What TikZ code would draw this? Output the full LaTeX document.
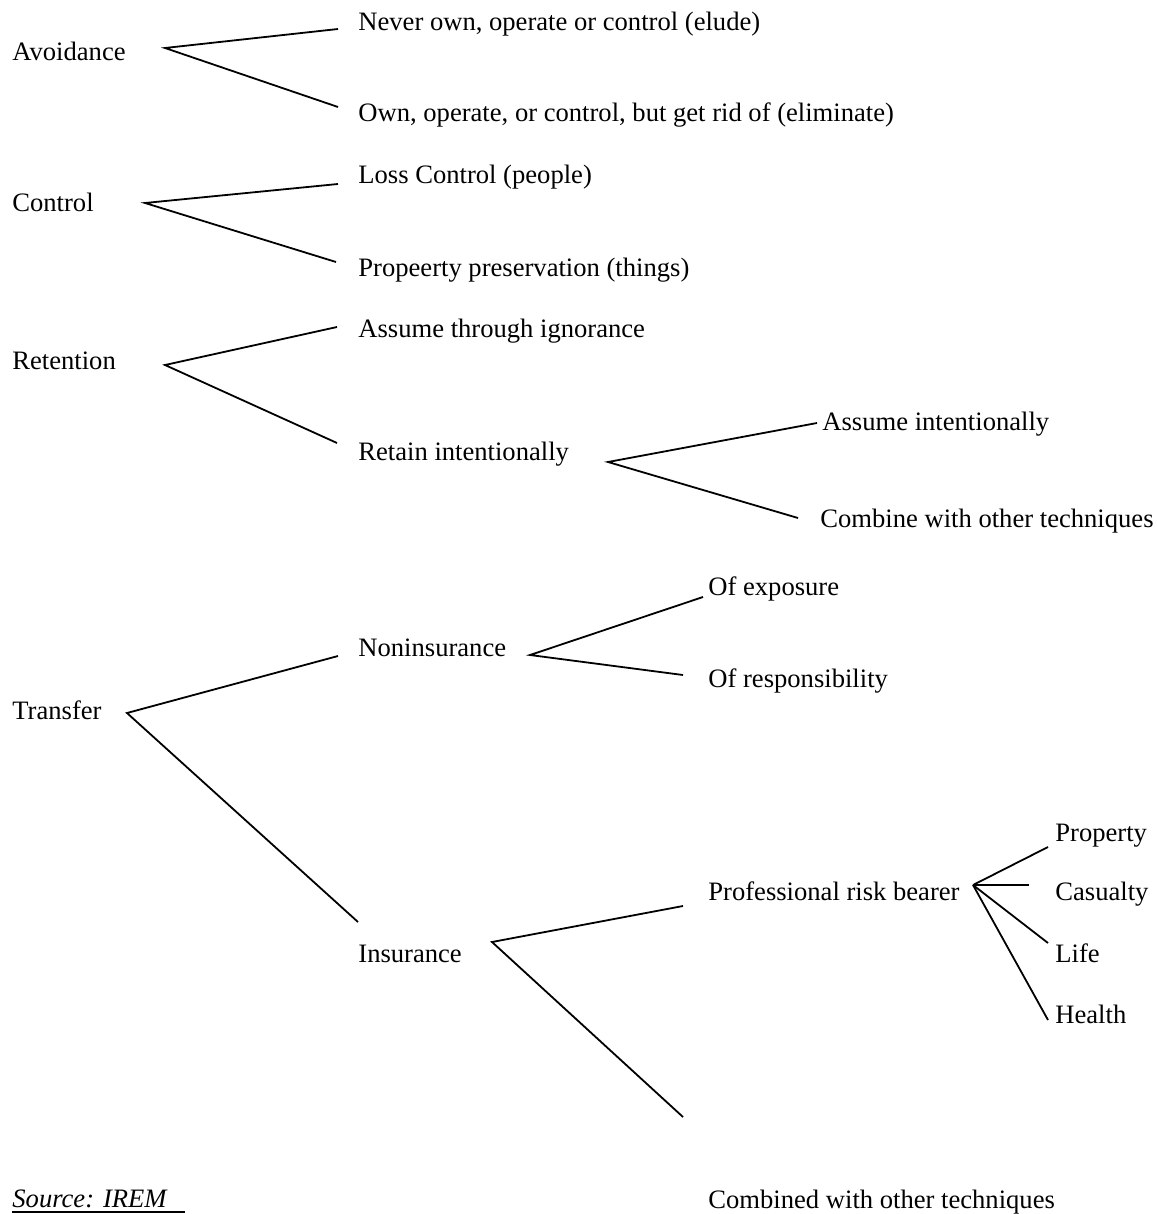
\documentclass[tikz,border=0pt]{standalone}
\usepackage{fontspec}
\setmainfont{Liberation Serif}
\begin{document}
\begin{tikzpicture}[x=0.5pt,y=-0.5pt,
  lbl/.style={anchor=base west,inner sep=0pt,font=\fontsize{13.3}{15}\selectfont},
  conn/.style={line width=0.9pt}]
\useasboundingbox (0,0) rectangle (1157,1214);
% labels
\node[lbl] (avo) at (12,61) {Avoidance};
\node[lbl] (never) at (358,31) {Never own, operate or control (elude)};
\node[lbl] (own) at (358,122) {Own, operate, or control, but get rid of (eliminate)};
\node[lbl] (ctl) at (12,212) {Control};
\node[lbl] (loss) at (358,184) {Loss Control (people)};
\node[lbl] (prop) at (358,276) {Propeerty preservation (things)};
\node[lbl] (ret) at (12,369) {Retention};
\node[lbl] (ign) at (358,337) {Assume through ignorance};
\node[lbl] (rint) at (358,460) {Retain intentionally};
\node[lbl] (aint) at (822,430) {Assume intentionally};
\node[lbl] (comb) at (820,527) {Combine with other techniques};
\node[lbl] (tra) at (12,719) {Transfer};
\node[lbl] (non) at (358,656) {Noninsurance};
\node[lbl] (expo) at (708,595) {Of exposure};
\node[lbl] (resp) at (708,687) {Of responsibility};
\node[lbl] (ins) at (358,962) {Insurance};
\node[lbl] (prb) at (708,900) {Professional risk bearer};
\node[lbl] (pty) at (1055,841) {Property};
\node[lbl] (cas) at (1055,900) {Casualty};
\node[lbl] (life) at (1055,962) {Life};
\node[lbl] (hea) at (1055,1023) {Health};
\node[lbl] (cwo) at (708,1208) {Combined with other techniques};
\node[lbl] (src) at (12,1207) {\itshape Source: IREM};
\draw[line width=0.7pt] (12,1212) -- (185,1212);
% branch points and ends
\coordinate (avoA) at (165,48);
\coordinate (neverE) at (338,29);
\coordinate (ownE) at (338,107);
\coordinate (ctlA) at (145,203);
\coordinate (lossE) at (338,184);
\coordinate (propE) at (336,262);
\coordinate (retA) at (165,365);
\coordinate (ignE) at (337,327);
\coordinate (rintE) at (337,443);
\coordinate (rintA) at (608,462);
\coordinate (aintE) at (817,423);
\coordinate (combE) at (798,518);
\coordinate (traA) at (127,713);
\coordinate (nonE) at (338,656);
\coordinate (insE) at (358,922);
\coordinate (nonA) at (530,655);
\coordinate (expoE) at (703,597);
\coordinate (respE) at (683,675);
\coordinate (insA) at (492,942);
\coordinate (prbE) at (683,906);
\coordinate (cwoE) at (683,1117);
\coordinate (prbA) at (973,885);
\coordinate (ptyE) at (1048,847);
\coordinate (casE) at (1029,885);
\coordinate (lifeE) at (1048,943);
\coordinate (heaE) at (1048,1020);
% connectors
\draw[conn] (neverE) -- (avoA) -- (ownE);
\draw[conn] (lossE) -- (ctlA) -- (propE);
\draw[conn] (ignE) -- (retA) -- (rintE);
\draw[conn] (aintE) -- (rintA) -- (combE);
\draw[conn] (nonE) -- (traA) -- (insE);
\draw[conn] (expoE) -- (nonA) -- (respE);
\draw[conn] (prbE) -- (insA) -- (cwoE);
\draw[conn] (prbA) -- (ptyE);
\draw[conn] (prbA) -- (casE);
\draw[conn] (prbA) -- (lifeE);
\draw[conn] (prbA) -- (heaE);
\end{tikzpicture}
\end{document}
